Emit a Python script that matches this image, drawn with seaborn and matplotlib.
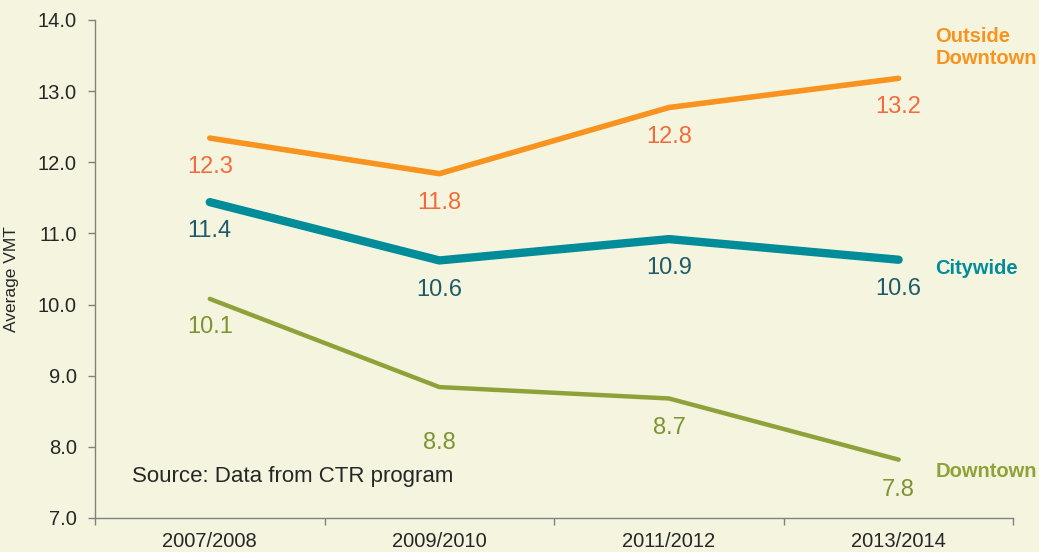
import matplotlib
matplotlib.use("Agg")
import matplotlib.pyplot as plt
from matplotlib.ticker import FixedLocator
import seaborn as sns
import pandas as pd

periods = ["2007/2008", "2009/2010", "2011/2012", "2013/2014"]
outside_downtown = [12.34, 11.84, 12.77, 13.18]
citywide = [11.44, 10.62, 10.92, 10.63]
downtown = [10.08, 8.84, 8.68, 7.82]
series_names = ["Outside\nDowntown", "Citywide", "Downtown"]

bg = "#F5F5DF"
line_colors = ["#F7931E", "#008C99", "#8FA23A"]
label_colors = ["#F26B3A", "#1E5B6A", "#7F9234"]
widths = [4.0, 6.0, 3.2]
# offset of value labels below each point, in points
offsets = [[-21, -21, -21, -21], [-21, -21, -21, -21], [-20, -40, -21, -22]]

sns.set_style("ticks")
plt.rcParams["font.family"] = ["Liberation Sans", "DejaVu Sans"]

df = pd.DataFrame({
    "period": periods * 3,
    "vmt": outside_downtown + citywide + downtown,
    "series": [s for s in series_names for _ in periods],
})

fig = plt.figure(figsize=(10.39, 5.52), dpi=100)
fig.patch.set_facecolor(bg)
ax = fig.add_axes([0.0914, 0.0616, 0.884, 0.9022])
ax.set_facecolor(bg)

for i, name in enumerate(series_names):
    sub = df[df["series"] == name]
    sns.lineplot(data=sub, x="period", y="vmt", ax=ax, color=line_colors[i],
                 linewidth=widths[i], solid_capstyle="round", legend=False)
    for j, v in enumerate(sub["vmt"]):
        ax.annotate(f"{v:.1f}", (j, v), xytext=(0, offsets[i][j]), textcoords="offset points",
                    ha="center", va="center", fontsize=17, color=label_colors[i])

ax.set_xlim(-0.5, 3.5)
ax.set_ylim(7, 14)
ax.set_yticks(range(7, 15))
ax.set_yticklabels([f"{v:.1f}" for v in range(7, 15)], fontsize=14.5)
ax.set_xticks(range(len(periods)))
ax.set_xticklabels(periods, fontsize=14.5)
ax.xaxis.set_minor_locator(FixedLocator([-0.5, 0.5, 1.5, 2.5, 3.5]))
ax.tick_params(axis="x", which="major", length=0, pad=10)
ax.tick_params(axis="x", which="minor", length=5, color="#808080", width=1)
ax.tick_params(axis="y", length=5, color="#808080", width=1, pad=8)
for side in ["top", "right"]:
    ax.spines[side].set_visible(False)
for side in ["left", "bottom"]:
    ax.spines[side].set_color("#808080")
    ax.spines[side].set_linewidth(1)

ax.set_xlabel("")
ax.set_ylabel("Average VMT", fontsize=12.5)
ax.yaxis.set_label_coords(-0.083, 0.48)

# series names at the right end
name_y = [13.62, 10.5, 7.66]
for i, name in enumerate(series_names):
    ax.text(3.16, name_y[i], name, ha="left", va="center", fontsize=14.5,
            fontweight="bold", color=line_colors[i], clip_on=False, linespacing=1.2)

ax.text(-0.34, 7.58, "Source: Data from CTR program", ha="left", va="center", fontsize=16)

fig.savefig("out.png", dpi=100, facecolor=bg)
